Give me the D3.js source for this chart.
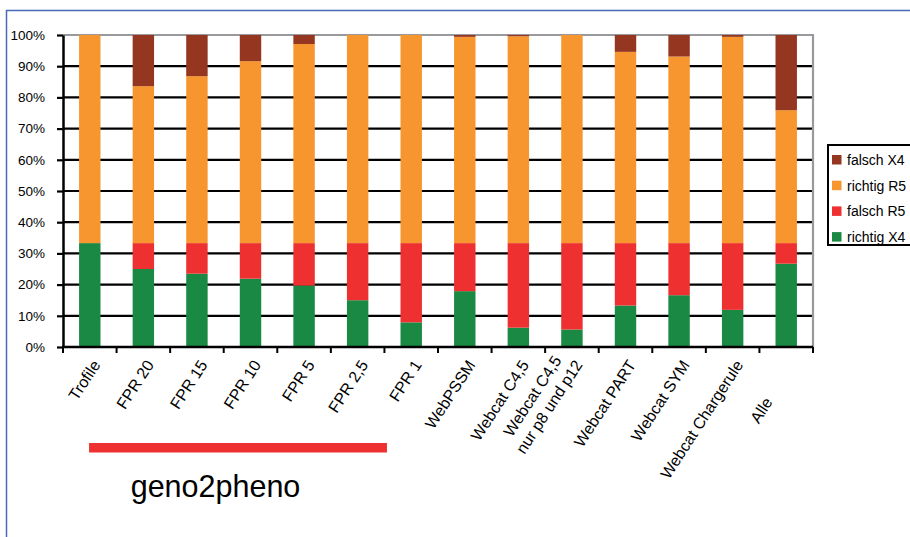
<!DOCTYPE html>
<html>
<head>
<meta charset="utf-8">
<script src="https://cdn.jsdelivr.net/npm/d3@7"></script>
<style>
  body { margin: 0; background: #fff; }
  svg { display: block; font-family: "Liberation Sans", Arial, sans-serif; }
</style>
</head>
<body>
<div id="chart"></div>
<script>
(function () {
  "use strict";

  /***** Données *****/
  var categories = ["Trofile", "FPR 20", "FPR 15", "FPR 10", "FPR 5", "FPR 2,5", "FPR 1",
    "WebPSSM", "Webcat C4,5", "Webcat C4,5\nnur p8 und p12", "Webcat PART", "Webcat SYM",
    "Webcat Chargerule", "Alle\u00a0\u00a0\u00a0\u00a0\u00a0\u00a0\u00a0\u00a0\u00a0\u00a0"];

  // valeurs en %, de bas en haut
  var richtigX4 = [33.3, 25.0, 23.5, 21.9, 19.7, 15.0, 7.9, 17.9, 6.2, 5.6, 13.3, 16.6, 11.9, 26.7];
  var falschR5  = [0, 8.3, 9.8, 11.4, 13.6, 18.3, 25.4, 15.4, 27.1, 27.7, 20.0, 16.7, 21.4, 6.6];
  var richtigR5 = [66.7, 50.3, 53.5, 58.3, 63.8, 66.7, 66.7, 66.1, 66.3, 66.7, 61.3, 59.8, 66.1, 42.6];
  var falschX4  = [0, 16.4, 13.2, 8.4, 2.9, 0, 0, 0.6, 0.4, 0, 5.4, 6.9, 0.6, 24.1];

  var seriesNames = ["richtig X4", "falsch R5", "richtig R5", "falsch X4"];
  var seriesColors = ["#1a8944", "#ee3130", "#f7962e", "#943620"];
  var yTicks = [0, 10, 20, 30, 40, 50, 60, 70, 80, 90, 100];

  var groupLabel = "geno2pheno";
  var groupFrom = 0, groupTo = 5; // Trofile .. FPR 2,5 (barre rouge)

  /***** Configuration *****/
  var width = 910, height = 537;
  var plot = { left: 63, right: 813, top: 35, bottom: 347 };

  var table = categories.map(function (c, i) {
    return { cat: c, "richtig X4": richtigX4[i], "falsch R5": falschR5[i],
             "richtig R5": richtigR5[i], "falsch X4": falschX4[i] };
  });
  var stacked = d3.stack().keys(seriesNames)(table);

  var x = d3.scaleBand()
    .domain(categories)
    .range([plot.left, plot.right])
    .paddingInner(0.6)
    .paddingOuter(0.3);

  var y = d3.scaleLinear().domain([0, 100]).range([plot.bottom, plot.top]);

  var color = d3.scaleOrdinal().domain(seriesNames).range(seriesColors);

  var svg = d3.select("#chart").append("svg")
    .attr("width", width)
    .attr("height", height);

  svg.append("rect").attr("width", width).attr("height", height).attr("fill", "#fff");

  // cadre bleu (haut et gauche)
  svg.append("path")
    .attr("d", "M6.5," + height + "V10.5H" + width)
    .attr("fill", "none")
    .attr("stroke", "#4a68b8")
    .attr("stroke-width", 1.5);

  // lignes de grille
  svg.append("g")
    .selectAll("line")
    .data(yTicks.filter(function (t) { return t > 0 && t < 100; }))
    .join("line")
    .attr("x1", plot.left).attr("x2", plot.right)
    .attr("y1", function (d) { return y(d); })
    .attr("y2", function (d) { return y(d); })
    .attr("stroke", "#000")
    .attr("stroke-width", 2.2);

  // bordure grise (haut, droite)
  svg.append("path")
    .attr("d", "M" + plot.left + "," + y(100) + "H" + plot.right + "V" + plot.bottom)
    .attr("fill", "none")
    .attr("stroke", "#9a9a9e")
    .attr("stroke-width", 2.2);

  // barres empilées
  svg.append("g")
    .selectAll("g")
    .data(stacked)
    .join("g")
    .attr("fill", function (d) { return color(d.key); })
    .selectAll("rect")
    .data(function (d) { return d; })
    .join("rect")
    .attr("x", function (d) { return x(d.data.cat); })
    .attr("width", x.bandwidth())
    .attr("y", function (d) { return y(d[1]); })
    .attr("height", function (d) { return y(d[0]) - y(d[1]); });

  // axe Y
  var yAxis = svg.append("g")
    .attr("transform", "translate(" + plot.left + ",0)")
    .call(d3.axisLeft(y).tickValues(yTicks).tickSize(6).tickSizeOuter(0)
      .tickFormat(function (d) { return d + "%"; }));
  yAxis.select(".domain").attr("stroke", "#000").attr("stroke-width", 2.5);
  yAxis.selectAll(".tick line").attr("stroke", "#000").attr("stroke-width", 2.2);
  yAxis.selectAll(".tick text")
    .attr("x", -18)
    .attr("font-size", 13.5)
    .attr("font-family", "'Liberation Sans', Arial, sans-serif")
    .attr("fill", "#000");

  // axe X (graduations entre les catégories)
  var step = x.step();
  var bounds = d3.range(categories.length + 1).map(function (i) { return plot.left + i * step; });
  svg.append("line")
    .attr("x1", plot.left - 1).attr("x2", plot.right)
    .attr("y1", plot.bottom).attr("y2", plot.bottom)
    .attr("stroke", "#000").attr("stroke-width", 2.5);
  svg.append("g")
    .selectAll("line")
    .data(bounds)
    .join("line")
    .attr("x1", function (d) { return d; }).attr("x2", function (d) { return d; })
    .attr("y1", plot.bottom).attr("y2", plot.bottom + 6)
    .attr("stroke", "#000").attr("stroke-width", 2);

  // étiquettes X inclinées
  var angle = -57;
  var labels = svg.append("g")
    .selectAll("text")
    .data(categories)
    .join("text")
    .attr("transform", function (d) {
      return "translate(" + (x(d) + x.bandwidth() / 2 + 7) + "," + (plot.bottom + 15) + ") rotate(" + angle + ")";
    })
    .attr("font-size", 16)
    .attr("fill", "#000")
    .attr("text-anchor", "middle");

  labels.each(function (d) {
    var lines = d.split("\n");
    var t = d3.select(this);
    // largeur du bloc = plus longue ligne, lignes centrées dans le bloc
    var tmp = lines.map(function (l) {
      var s = t.append("tspan").text(l);
      var w = s.node().getComputedTextLength();
      s.remove();
      return w;
    });
    var blockW = d3.max(tmp);
    var n = lines.length;
    lines.forEach(function (l, i) {
      t.append("tspan")
        .attr("x", -blockW / 2)
        .attr("y", (i - (n - 1)) * 20 + 5)
        .text(l);
    });
  });

  // groupe geno2pheno
  var gx0 = x(categories[groupFrom]) + 10;
  var gx1 = x(categories[groupTo]) + x.bandwidth() + 18.6;
  svg.append("rect")
    .attr("x", gx0).attr("y", 443)
    .attr("width", gx1 - gx0).attr("height", 9.5)
    .attr("fill", "#ee3130");
  svg.append("text")
    .attr("x", (gx0 + gx1) / 2 - 22.5)
    .attr("y", 497)
    .attr("text-anchor", "middle")
    .attr("font-size", 30.5)
    .attr("fill", "#000")
    .text(groupLabel);

  // légende
  var legend = svg.append("g").attr("transform", "translate(828,145)");
  legend.append("rect")
    .attr("x", 0).attr("y", 0)
    .attr("width", 100).attr("height", 100)
    .attr("fill", "#fff")
    .attr("stroke", "#000")
    .attr("stroke-width", 2);
  var items = legend.selectAll("g.item")
    .data(seriesNames.slice().reverse())
    .join("g")
    .attr("class", "item")
    .attr("transform", function (d, i) { return "translate(0," + (11 + i * 25.7) + ")"; });
  items.append("rect")
    .attr("x", 4).attr("y", -1)
    .attr("width", 9.5).attr("height", 9.5)
    .attr("fill", function (d) { return color(d); });
  items.append("text")
    .attr("x", 19).attr("y", 9)
    .attr("font-size", 14)
    .attr("fill", "#000")
    .text(function (d) { return d; });
})();
</script>
</body>
</html>
